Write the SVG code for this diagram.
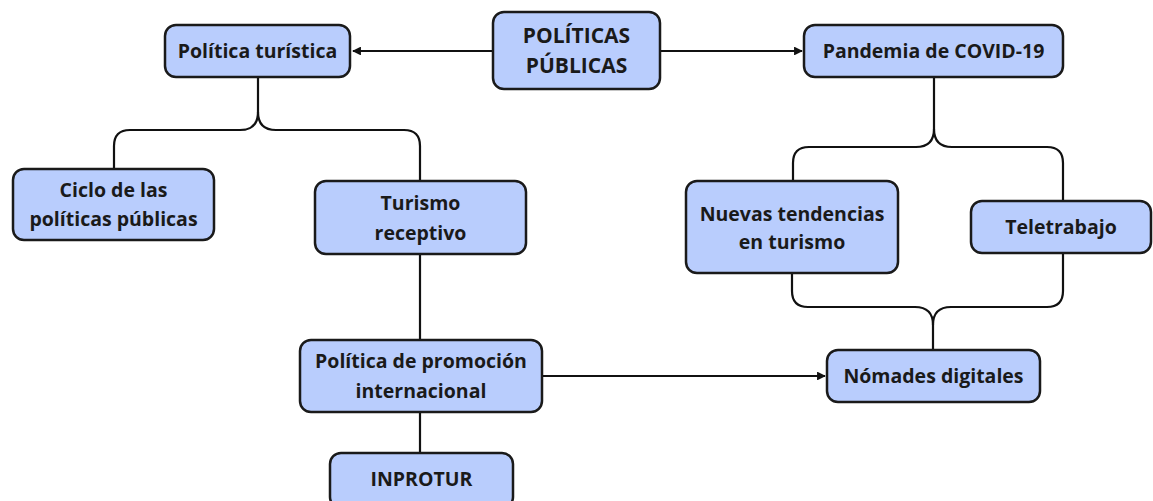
<svg xmlns="http://www.w3.org/2000/svg" width="1153" height="501" viewBox="0 0 1153 501">
<style>
.n{fill:#b9cdfd;stroke:#1a1a1a;stroke-width:2.5}
.t{font-family:"Open Sans","Noto Sans",sans-serif;font-weight:bold;font-size:19.5px;fill:#1a1a1a;text-anchor:middle}
.h{font-size:21px}
.c{fill:none;stroke:#111;stroke-width:2.2}
</style>
<defs>
<marker id="a" viewBox="0 0 10 10" refX="9" refY="5" markerWidth="4" markerHeight="4" orient="auto-start-reverse" markerUnits="strokeWidth">
<path d="M0,0 L10,5 L0,10 Z" fill="#111"/>
</marker>
</defs>
<rect width="1153" height="501" fill="#fff"/>
<g id="connectors">
<path class="c" d="M493 51 H353" marker-end="url(#a)"/>
<path class="c" d="M660 51 H802" marker-end="url(#a)"/>
<path class="c" d="M542 376 H825" marker-end="url(#a)"/>
<path class="c" d="M258 77 V112 Q258 130 240 130 H130 Q114 130 114 146 V169"/>
<path class="c" d="M258 112 Q258 130 276 130 H404 Q420 130 420 146 V181"/>
<path class="c" d="M420 254 V340"/>
<path class="c" d="M420 412 V453"/>
<path class="c" d="M934 77 V129 Q934 147 916 147 H809 Q793 147 793 163 V181"/>
<path class="c" d="M934 129 Q934 147 952 147 H1047 Q1063 147 1063 163 V201"/>
<path class="c" d="M792 273 V291 Q792 307 808 307 H915 Q933 307 933 325 V350"/>
<path class="c" d="M1063 253 V291 Q1063 307 1047 307 H951 Q933 307 933 325"/>
</g>
<g id="politicas-publicas">
<rect class="n" x="493" y="12" width="167" height="77" rx="11"/>
<text class="t h" x="576.5" y="43">POLÍTICAS</text>
<text class="t h" x="576.5" y="73">PÚBLICAS</text>
</g>
<g id="politica-turistica">
<rect class="n" x="165" y="25" width="185" height="52" rx="11"/>
<text class="t" x="257.5" y="58">Política turística</text>
</g>
<g id="pandemia">
<rect class="n" x="804" y="25" width="259" height="52" rx="11"/>
<text class="t" x="933.5" y="58">Pandemia de COVID-19</text>
</g>
<g id="ciclo">
<rect class="n" x="13" y="169" width="201" height="71" rx="11"/>
<text class="t" x="113.5" y="197">Ciclo de las</text>
<text class="t" x="113.5" y="226">políticas públicas</text>
</g>
<g id="turismo-receptivo">
<rect class="n" x="315" y="181" width="211" height="73" rx="11"/>
<text class="t" x="420.5" y="210">Turismo</text>
<text class="t" x="420.5" y="240">receptivo</text>
</g>
<g id="nuevas-tendencias">
<rect class="n" x="686" y="181" width="212" height="92" rx="11"/>
<text class="t" x="792" y="221">Nuevas tendencias</text>
<text class="t" x="792" y="249">en turismo</text>
</g>
<g id="teletrabajo">
<rect class="n" x="971" y="201" width="180" height="52" rx="11"/>
<text class="t" x="1061" y="234">Teletrabajo</text>
</g>
<g id="promocion">
<rect class="n" x="300" y="340" width="242" height="72" rx="11"/>
<text class="t" x="421" y="368">Política de promoción</text>
<text class="t" x="421" y="398">internacional</text>
</g>
<g id="nomades">
<rect class="n" x="827" y="350" width="213" height="52" rx="11"/>
<text class="t" x="933.5" y="383">Nómades digitales</text>
</g>
<g id="inprotur">
<rect class="n" x="330" y="453" width="183" height="55" rx="11"/>
<text class="t" x="421.5" y="486">INPROTUR</text>
</g>
</svg>
